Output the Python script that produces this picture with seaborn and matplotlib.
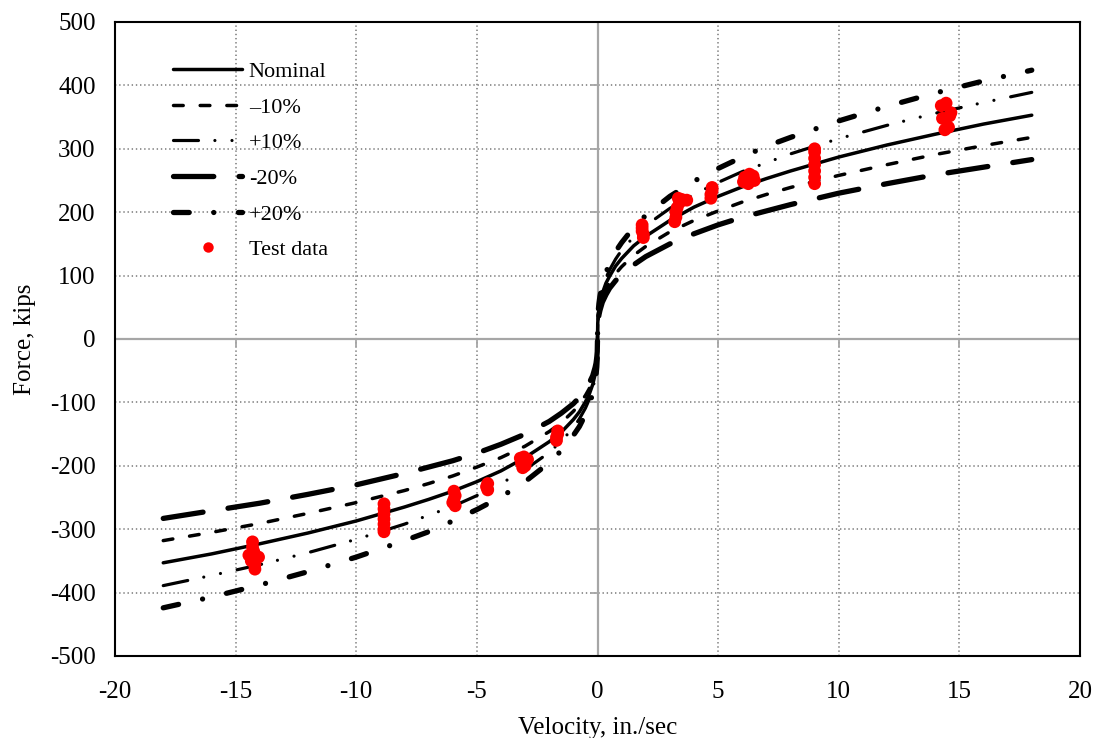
import numpy as np
import pandas as pd
import matplotlib
matplotlib.use("Agg")
import matplotlib.pyplot as plt
import seaborn as sns
from matplotlib.lines import Line2D

# ---------------- data ----------------
velocity = [0.0, 0.01, 0.03, 0.06, 0.1, 0.2, 0.35, 0.5, 0.75, 1.0, 1.5, 2.0,
            3.0, 4.0, 5.0, 6.0, 7.0, 8.0, 10.0, 12.0, 14.0, 16.0, 18.0]
nominal = [0, 25, 37, 47, 56, 72, 88, 99, 115, 127, 147, 162,
           187, 208, 225, 240, 253, 265, 287, 306, 323, 339, 353]
minus10 = [0, 22, 33, 42, 51, 65, 79, 89, 103, 114, 132, 146,
           169, 187, 202, 216, 228, 239, 258, 275, 291, 305, 318]
plus10 = [0, 27, 40, 52, 62, 79, 96, 109, 126, 140, 161, 179,
          206, 228, 247, 264, 278, 292, 316, 337, 356, 373, 389]
minus20 = [0, 20, 29, 38, 45, 58, 70, 80, 92, 102, 117, 130,
           150, 166, 180, 192, 202, 212, 230, 245, 259, 271, 283]
plus20 = [0, 30, 44, 56, 67, 86, 105, 119, 138, 152, 176, 195,
          225, 249, 269, 287, 304, 318, 344, 367, 388, 407, 424]

test_v = [1.85, 1.85, 1.85, 1.9, 1.9,
          3.2, 3.25, 3.25, 3.3, 3.4, 3.5, 3.7, 3.35,
          4.7, 4.7, 4.75, 4.75,
          6.05, 6.1, 6.3, 6.45, 6.5, 6.25,
          9.0, 9.0, 9.0, 9.0, 9.0, 9.0, 9.0,
          14.45, 14.25, 14.65, 14.3, 14.55, 14.4, 14.6,
          -1.65, -1.65, -1.7, -1.7,
          -3.2, -3.05, -2.9, -3.15, -3.0, -3.1,
          -4.55, -4.6, -4.55,
          -5.95, -5.9, -5.95, -6.0, -5.9,
          -8.85, -8.85, -8.85, -8.85, -8.85, -8.85, -8.85,
          -14.3, -14.3, -14.25, -14.45, -14.05, -14.35, -14.2, -14.2]
test_f = [180, 175, 170, 165, 160,
          185, 192, 200, 207, 215, 220, 219, 222,
          222, 228, 234, 239,
          248, 255, 260, 257, 250, 245,
          245, 255, 265, 275, 285, 295, 300,
          372, 368, 357, 348, 334, 330, 352,
          -145, -150, -155, -160,
          -188, -186, -190, -196, -200, -203,
          -228, -233, -238,
          -240, -247, -253, -258, -263,
          -260, -268, -276, -284, -292, -300, -304,
          -320, -328, -335, -341, -344, -350, -356, -363]

labels = ["Nominal", "\u201310%", "+10%", "-20%", "+20%", "Test data"]
x_ticks = [-20, -15, -10, -5, 0, 5, 10, 15, 20]
y_ticks = [-500, -400, -300, -200, -100, 0, 100, 200, 300, 400, 500]

# ---------------- style ----------------
sns.set_theme(style="white")
plt.rcParams["font.family"] = ["Liberation Serif", "DejaVu Serif"]
plt.rcParams["axes.unicode_minus"] = False
plt.rcParams["lines.scale_dashes"] = False
plt.rcParams["text.color"] = "black"
plt.rcParams["axes.labelcolor"] = "black"

fig = plt.figure(figsize=(10.99, 7.38), dpi=100)
ax = fig.add_axes([115 / 1099, 1 - 656 / 738, 965 / 1099, 634 / 738])


def full_curve(v, f):
    v = np.asarray(v, float)
    f = np.asarray(f, float)
    vv = np.concatenate([-v[::-1], v[1:]])
    ff = np.concatenate([-f[::-1], f[1:]])
    return pd.DataFrame({"v": vv, "F": ff})


# dash patterns in points (scale_dashes off); round caps add lw to each "on"
curve_styles = [
    (nominal, 2.5, None),
    (minus10, 2.5, (7.0, 12.2)),
    (plus10, 2.3, (18.0, 11.8, 0.01, 12.3, 0.01, 12.3)),
    (minus20, 3.8, (29.0, 18.2)),
    (plus20, 3.8, (11.3, 17.7, 0.01, 17.7)),
]

handles = []
for (vals, lw, dash), lab in zip(curve_styles, labels[:5]):
    df = full_curve(velocity, vals)
    n_before = len(ax.get_lines())
    sns.lineplot(data=df, x="v", y="F", ax=ax, color="black",
                 estimator=None, sort=False, legend=False, zorder=4)
    line = ax.get_lines()[n_before]
    line.set_linewidth(lw)
    line.set_solid_capstyle("round")
    line.set_dash_capstyle("round")
    line.set_linestyle("-" if dash is None else (0, dash))
    h = Line2D([], [], color="black", lw=lw,
               linestyle="-" if dash is None else (0, dash),
               solid_capstyle="round", dash_capstyle="round")
    handles.append(h)

sns.scatterplot(x=test_v, y=test_f, ax=ax, color="#ff0000", s=85,
                edgecolor="none", linewidth=0, zorder=5, legend=False)

# axes at zero with tick marks (Excel style)
ax.axhline(0, color="#a6a6a6", lw=1.6, zorder=1)
ax.axvline(0, color="#a6a6a6", lw=1.6, zorder=1)
ax.plot(np.zeros(len(y_ticks)), y_ticks, ls="none", marker=0, ms=6,
        mew=1.3, color="#a6a6a6", zorder=1)
ax.plot(x_ticks, np.zeros(len(x_ticks)), ls="none", marker=3, ms=6,
        mew=1.3, color="#a6a6a6", zorder=1)

ax.set_xlim(-20, 20)
ax.set_ylim(-500, 500)
ax.set_xticks(x_ticks)
ax.set_yticks(y_ticks)
ax.set_xticklabels([str(t) for t in x_ticks])
ax.set_yticklabels([str(t) for t in y_ticks])
ax.tick_params(axis="both", length=0, labelsize=18, colors="black")
ax.tick_params(axis="x", pad=18)
ax.tick_params(axis="y", pad=14)

ax.grid(True, color="#8c8c8c", linestyle=(0, (1.0, 2.0)), lw=1.3, zorder=0)
for s in ax.spines.values():
    s.set_color("black")
    s.set_linewidth(1.5)
    s.set_visible(True)

ax.set_xlabel("Velocity, in./sec", fontsize=18, labelpad=10, color="black")
ax.set_ylabel("Force, kips", fontsize=18, labelpad=10, color="black")

test_handle = Line2D([], [], ls="none", marker="o", ms=7.5,
                     color="#ff0000", mec="none")
leg = ax.legend(handles + [test_handle], labels, loc="upper left",
                bbox_to_anchor=(0.051, 0.952), frameon=False, fontsize=16,
                handlelength=3.1, handletextpad=0.3, labelspacing=0.68,
                borderaxespad=0.0, numpoints=1, labelcolor="black")

fig.savefig("out.png", dpi=100, facecolor="white")
